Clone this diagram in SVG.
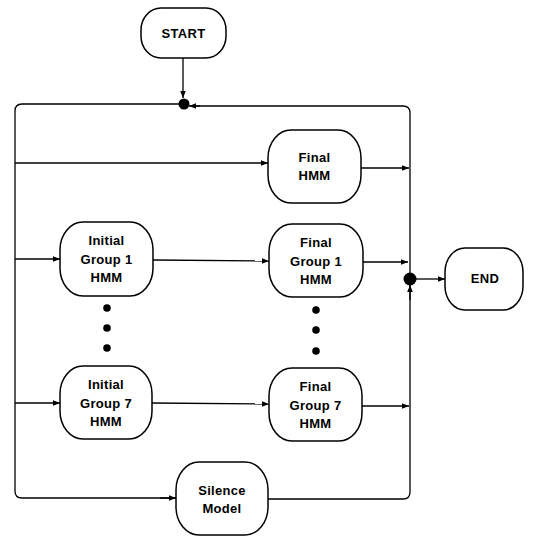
<svg xmlns="http://www.w3.org/2000/svg" width="536" height="536" viewBox="0 0 536 536">
<defs>
<marker id="ah" viewBox="0 0 10 10" refX="10" refY="5" markerWidth="7" markerHeight="7" markerUnits="userSpaceOnUse" orient="auto">
<path d="M0,1 L10,5 L0,9 Z" fill="#000"/>
</marker>
</defs>
<style>
.n{fill:#fff;stroke:#000;stroke-width:1.5}
.t{font-family:"Liberation Sans",Arial,sans-serif;font-weight:bold;font-size:13px;letter-spacing:0.3px;text-anchor:middle;fill:#000}
.c{fill:none;stroke:#000;stroke-width:1.3}
.a{marker-end:url(#ah)}
</style>
<rect width="536" height="536" fill="#fff"/>
<g id="connectors">
<line class="c a" x1="183" y1="58" x2="183" y2="98"/>
<path class="c" d="M183,104 H22 Q15,104 15,111 V491 Q15,498 22,498 H176"/>
<line class="c a" x1="160" y1="498" x2="176" y2="498"/>
<line class="c a" x1="15" y1="163" x2="268" y2="163"/>
<line class="c a" x1="15" y1="259" x2="60" y2="259"/>
<line class="c a" x1="15" y1="403" x2="60" y2="403"/>
<line class="c a" x1="153" y1="260" x2="269" y2="261"/>
<line class="c a" x1="152" y1="403" x2="269" y2="404"/>
<path class="c" d="M268,499 H403 Q410,499 410,492 V113 Q410,106 403,106 H190"/>
<line class="c a" x1="200" y1="106" x2="189" y2="106"/>
<line class="c a" x1="410" y1="300" x2="410" y2="285"/>
<line class="c a" x1="361" y1="168" x2="409" y2="168"/>
<line class="c a" x1="363" y1="262" x2="408" y2="262"/>
<line class="c a" x1="362" y1="406" x2="409" y2="406"/>
<line class="c a" x1="415" y1="279" x2="445" y2="279"/>
<circle cx="184" cy="104" r="5.5" fill="#000"/>
<circle cx="410" cy="279" r="6.5" fill="#000"/>
</g>
<g id="start">
<rect class="n" x="141" y="8" width="85" height="50" rx="20" ry="22"/>
<text class="t" x="183.5" y="38">START</text>
</g>
<g id="final-hmm">
<rect class="n" x="268" y="130" width="93" height="73" rx="23" ry="28"/>
<text class="t" x="314.5" y="162">Final</text>
<text class="t" x="314.5" y="180">HMM</text>
</g>
<g id="initial-g1">
<rect class="n" x="60" y="222" width="93" height="74" rx="23" ry="28"/>
<text class="t" x="106.5" y="245">Initial</text>
<text class="t" x="106.5" y="264">Group 1</text>
<text class="t" x="106.5" y="282">HMM</text>
</g>
<g id="final-g1">
<rect class="n" x="269" y="224" width="94" height="73" rx="23" ry="28"/>
<text class="t" x="316" y="247">Final</text>
<text class="t" x="316" y="266">Group 1</text>
<text class="t" x="316" y="284">HMM</text>
</g>
<g id="dots-initial">
<circle cx="107" cy="308" r="3.8" fill="#000"/>
<circle cx="107" cy="328" r="3.8" fill="#000"/>
<circle cx="107" cy="348" r="3.8" fill="#000"/>
</g>
<g id="dots-final">
<circle cx="316" cy="310" r="3.8" fill="#000"/>
<circle cx="316" cy="330" r="3.8" fill="#000"/>
<circle cx="316" cy="351" r="3.8" fill="#000"/>
</g>
<g id="end">
<rect class="n" x="445" y="248" width="78" height="62" rx="20" ry="24"/>
<text class="t" x="485" y="283">END</text>
</g>
<g id="initial-g7">
<rect class="n" x="60" y="366" width="92" height="73" rx="23" ry="28"/>
<text class="t" x="106" y="389">Initial</text>
<text class="t" x="106" y="408">Group 7</text>
<text class="t" x="106" y="426">HMM</text>
</g>
<g id="final-g7">
<rect class="n" x="269" y="368" width="93" height="73" rx="23" ry="28"/>
<text class="t" x="315.5" y="391">Final</text>
<text class="t" x="315.5" y="410">Group 7</text>
<text class="t" x="315.5" y="428">HMM</text>
</g>
<g id="silence">
<rect class="n" x="176" y="462" width="92" height="73" rx="23" ry="28"/>
<text class="t" x="222" y="495">Silence</text>
<text class="t" x="222" y="513">Model</text>
</g>
</svg>
